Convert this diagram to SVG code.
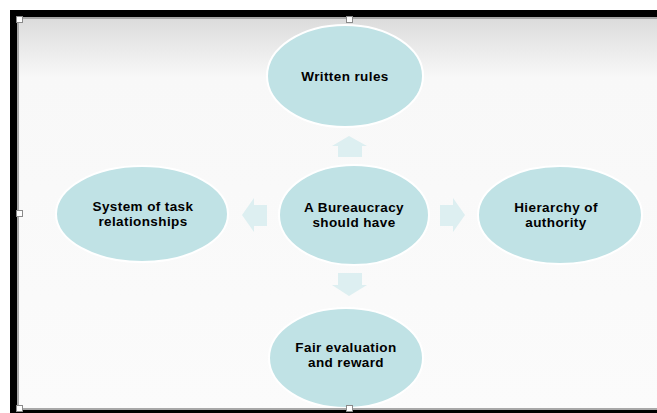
<svg xmlns="http://www.w3.org/2000/svg" width="657" height="413" viewBox="0 0 657 413">
<defs>
<linearGradient id="bg" x1="0" y1="0" x2="0" y2="1">
<stop offset="0" stop-color="#dcdcdc"/>
<stop offset="0.15" stop-color="#f8f8f8"/>
<stop offset="1" stop-color="#fbfbfb"/>
</linearGradient>
</defs>
<style>
.node{fill:#c0e2e5;stroke:#ffffff;stroke-width:2}
.lbl{font-family:"Liberation Sans",Arial,sans-serif;font-weight:bold;font-size:13.5px;letter-spacing:0.4px;fill:#000;text-anchor:middle}
.arr{fill:#ddeff1}
.hd{fill:#ffffff;stroke:#8a8a8a;stroke-width:1}
</style>
<rect x="0" y="0" width="657" height="413" fill="#ffffff"/>
<rect x="10" y="10" width="647" height="403" fill="#000000"/>
<rect x="17" y="17" width="640" height="393" fill="#a8a8a8"/>
<rect x="19" y="19" width="638" height="389" fill="url(#bg)"/>
<g id="connectors">
<path class="arr" d="M338,157 L338,146 L332,146 L349,136 L367,146 L362,146 L362,157 Z"/>
<path class="arr" d="M338,273 L338,285 L332,285 L349,296 L367,285 L362,285 L362,273 Z"/>
<path class="arr" d="M267,205 L254,205 L254,198 L242,215 L254,232 L254,226 L267,226 Z"/>
<path class="arr" d="M440,205 L453,205 L453,198 L465,215 L453,232 L453,226 L440,226 Z"/>
</g>
<g id="node-written-rules">
<ellipse class="node" cx="345" cy="76" rx="78" ry="51"/>
<text class="lbl" x="345" y="81">Written rules</text>
</g>
<g id="node-center">
<ellipse class="node" cx="354" cy="215" rx="75" ry="50"/>
<text class="lbl" x="354" y="212">A Bureaucracy</text>
<text class="lbl" x="354" y="227">should have</text>
</g>
<g id="node-system">
<ellipse class="node" cx="142" cy="214" rx="86" ry="48"/>
<text class="lbl" x="143" y="211">System of task</text>
<text class="lbl" x="143" y="226">relationships</text>
</g>
<g id="node-hierarchy">
<ellipse class="node" cx="560" cy="215" rx="82" ry="49"/>
<text class="lbl" x="556" y="212">Hierarchy of</text>
<text class="lbl" x="556" y="227">authority</text>
</g>
<g id="node-fair">
<ellipse class="node" cx="346" cy="358" rx="77" ry="50"/>
<text class="lbl" x="346" y="352">Fair evaluation</text>
<text class="lbl" x="346" y="367">and reward</text>
</g>
<rect x="19" y="408" width="638" height="2" fill="#a8a8a8"/>
<g id="handles">
<rect class="hd" x="16.5" y="16.5" width="6" height="6"/>
<rect class="hd" x="346.5" y="16.5" width="6" height="6"/>
<rect class="hd" x="16.5" y="210.5" width="6" height="6"/>
<rect class="hd" x="16.5" y="405.5" width="6" height="6"/>
<rect class="hd" x="346.5" y="405.5" width="6" height="6"/>
</g>
</svg>
